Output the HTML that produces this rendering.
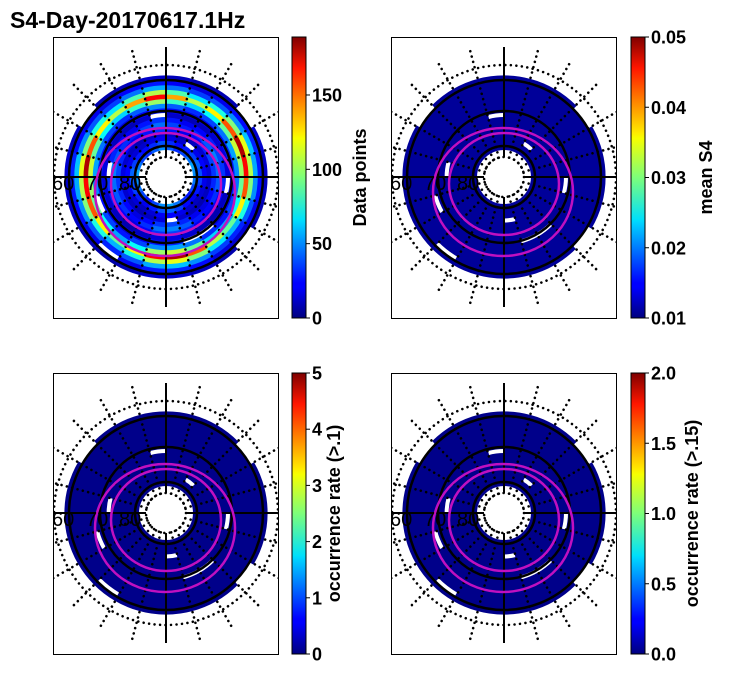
<!DOCTYPE html>
<html><head><meta charset="utf-8"><style>
body{margin:0;background:#fff;width:731px;height:674px;overflow:hidden}
svg text{font-family:"Liberation Sans",sans-serif}
</style></head><body>
<svg id="fig" width="731" height="674" xmlns="http://www.w3.org/2000/svg">
<defs>
<linearGradient id="jet" x1="0" y1="1" x2="0" y2="0">
<stop offset="0" stop-color="#00007f"/><stop offset="0.11" stop-color="#0000ff"/><stop offset="0.125" stop-color="#0000ff"/>
<stop offset="0.34" stop-color="#00d4ff"/><stop offset="0.35" stop-color="#00e0fb"/><stop offset="0.5" stop-color="#7dff7a"/>
<stop offset="0.64" stop-color="#f7ff00"/><stop offset="0.66" stop-color="#ffea00"/><stop offset="0.89" stop-color="#ff1600"/><stop offset="1" stop-color="#7f0000"/>
</linearGradient>
</defs>
<text x="10" y="28" font-size="23" font-weight="bold">S4-Day-20170617.1Hz</text>
</svg>
<script>
// Panel 1 data: data points per radial bin (inner -> outer) and sector modulation
const ringCounts = [45, 35, 20, 15, 30, 40, 30, 15, 25, 45, 90, 150, 95, 50, 25, 12];
const sectorFactor = [1.0, 0.8, 0.6, 0.7, 1.0, 1.2, 1.1, 0.8, 0.6, 0.8, 1.0, 1.1, 1.2, 1.0, 0.8, 0.7, 0.9, 1.1, 0.9, 0.7, 0.8, 1.0, 1.2, 1.1];
const meanS4 = 0.011;
const occ1 = 0.05;
const occ15 = 0.02;
const gapCells = [[8,3],[8,4],[9,10],[7,17],[3,5],[2,20],[15,2],[15,14],[14,8],[7,0],[6,12],[15,21]];
const cbTicks1 = [0, 50, 100, 150];
const cbTicks2 = ["0.01","0.02","0.03","0.04","0.05"];
const cbTicks3 = [0,1,2,3,4,5];
const cbTicks4 = ["0.0","0.5","1.0","1.5","2.0"];

const NS='http://www.w3.org/2000/svg';
const svg=document.getElementById('fig');
function mk(tag,attrs,parent){const e=document.createElementNS(NS,tag);for(const k in attrs)e.setAttribute(k,attrs[k]);(parent||svg).appendChild(e);return e;}
function jet(t){t=Math.max(0,Math.min(1,t));
 const r=Math.max(0,Math.min(1,1.5-Math.abs(4*t-3))),g=Math.max(0,Math.min(1,1.5-Math.abs(4*t-2))),b=Math.max(0,Math.min(1,1.5-Math.abs(4*t-1)));
 return `rgb(${Math.round(r*255)},${Math.round(g*255)},${Math.round(b*255)})`;}
const R0=27,R1=101,NR=ringCounts.length,NSEC=sectorFactor.length;
function rOf(i){return R0+(R1-R0)*i/NR;}
function isGap(i,s){return gapCells.some(g=>g[0]===i&&g[1]===s);}
function sectorPath(cx,cy,ra,rb,a0,a1){
 const p=(r,a)=>[cx+r*Math.cos(a),cy+r*Math.sin(a)];
 const [x1,y1]=p(ra,a0),[x2,y2]=p(rb,a0),[x3,y3]=p(rb,a1),[x4,y4]=p(ra,a1);
 return `M${x1},${y1}L${x2},${y2}A${rb},${rb} 0 0 1 ${x3},${y3}L${x4},${y4}A${ra},${ra} 0 0 0 ${x1},${y1}Z`;}

const panels=[
 {x:53,y:37,cx:166,cy:177,kind:0,cbx:292,vmin:0,vmax:189,ticks:cbTicks1,label:"Data points",lx:366,name:"data-points"},
 {x:391,y:37,cx:504,cy:177,kind:1,cbx:631,vmin:0.01,vmax:0.05,ticks:cbTicks2,label:"mean S4",lx:712,name:"mean-s4"},
 {x:53,y:373,cx:166,cy:513,kind:2,cbx:292,vmin:0,vmax:5,ticks:cbTicks3,label:"occurrence rate (>.1)",lx:340,name:"occ-rate-01"},
 {x:391,y:373,cx:504,cy:513,kind:3,cbx:631,vmin:0,vmax:2,ticks:cbTicks4,label:"occurrence rate (>.15)",lx:698,name:"occ-rate-015"}];
const W=225,H=281;
panels.forEach((P,pi)=>{
 const cid='clip'+pi;
 const cp=mk('clipPath',{id:cid});mk('rect',{x:P.x,y:P.y,width:W,height:H},cp);
 const g=mk('g',{'clip-path':`url(#${cid})`});
 
 
 for(let i=0;i<NR;i++)for(let s=0;s<NSEC;s++){
  if(isGap(i,s))continue;
  let v;
  if(P.kind===0)v=ringCounts[i]*sectorFactor[s];
  else if(P.kind===1)v=meanS4;
  else if(P.kind===2)v=occ1;
  else v=occ15;
  const a0=(s/NSEC)*2*Math.PI,a1=((s+1)/NSEC)*2*Math.PI+0.01;
  const c=mk('path',{d:sectorPath(P.cx,P.cy,rOf(i),rOf(i+1)+0.6,a0,a1),fill:jet((v-P.vmin)/(P.vmax-P.vmin))},g);
  
  
 }
 // dotted grid
 const dot={stroke:'#000','stroke-width':2.6,'stroke-linecap':'round','stroke-dasharray':'0.01 5.5',fill:'none'};
 [20,112].forEach(r=>mk('circle',Object.assign({cx:P.cx,cy:P.cy,r:r},dot),g));
 for(let k=0;k<24;k++){if(k%6===0)continue;const a=k*Math.PI/12;
  mk('line',Object.assign({x1:P.cx+20*Math.cos(a),y1:P.cy+20*Math.sin(a),x2:P.cx+132*Math.cos(a),y2:P.cy+132*Math.sin(a)},dot),g);}
 [31,66,97].forEach(r=>mk('circle',{cx:P.cx,cy:P.cy,r:r,fill:'none',stroke:'#000','stroke-width':2.5},g));
 mk('line',{x1:P.cx,y1:P.y+10,x2:P.cx,y2:P.cy-20,stroke:'#000','stroke-width':2},g);
 mk('line',{x1:P.cx,y1:P.cy+20,x2:P.cx,y2:P.y+H-11,stroke:'#000','stroke-width':2},g);
 mk('line',{x1:P.x,y1:P.cy,x2:P.cx-20,y2:P.cy,stroke:'#000','stroke-width':2},g);
 mk('line',{x1:P.cx+20,y1:P.cy,x2:P.x+W,y2:P.cy,stroke:'#000','stroke-width':2},g);
 mk('ellipse',{cx:P.cx-1,cy:P.cy+15,rx:70,ry:64,fill:'none',stroke:'#c010c0','stroke-width':2.5},g);
 mk('ellipse',{cx:P.cx,cy:P.cy+7,rx:55,ry:51,fill:'none',stroke:'#c010c0','stroke-width':2.5},g);
 [["60",-114],["70",-80],["80",-47]].forEach(([t,dx])=>{const e=mk('text',{x:P.cx+dx,y:P.cy+13,'font-size':20},g);e.textContent=t;
  });
 const fr=mk('rect',{x:P.x+0.5,y:P.y+0.5,width:W,height:H,fill:'none',stroke:'#000','stroke-width':1});
 
 // colorbar
 const cb=mk('rect',{x:P.cbx,y:P.y,width:14,height:H,fill:'url(#jet)',stroke:'#000','stroke-width':1});
 
 P.ticks.forEach(t=>{const v=parseFloat(t);const y=P.y+H-(v-P.vmin)/(P.vmax-P.vmin)*H;
  mk('line',{x1:P.cbx+14,y1:y,x2:P.cbx+18,y2:y,stroke:'#000','stroke-width':1});
  const e=mk('text',{x:P.cbx+20,y:y+6.5,'font-size':18,'font-weight':'bold'});e.textContent=t;
  });
 const L=mk('text',{x:P.lx,y:P.y+H/2,'font-size':18,'font-weight':'bold','text-anchor':'middle',transform:`rotate(-90 ${P.lx} ${P.y+H/2})`});
 L.textContent=P.label;
 
});
</script>
</body></html>
